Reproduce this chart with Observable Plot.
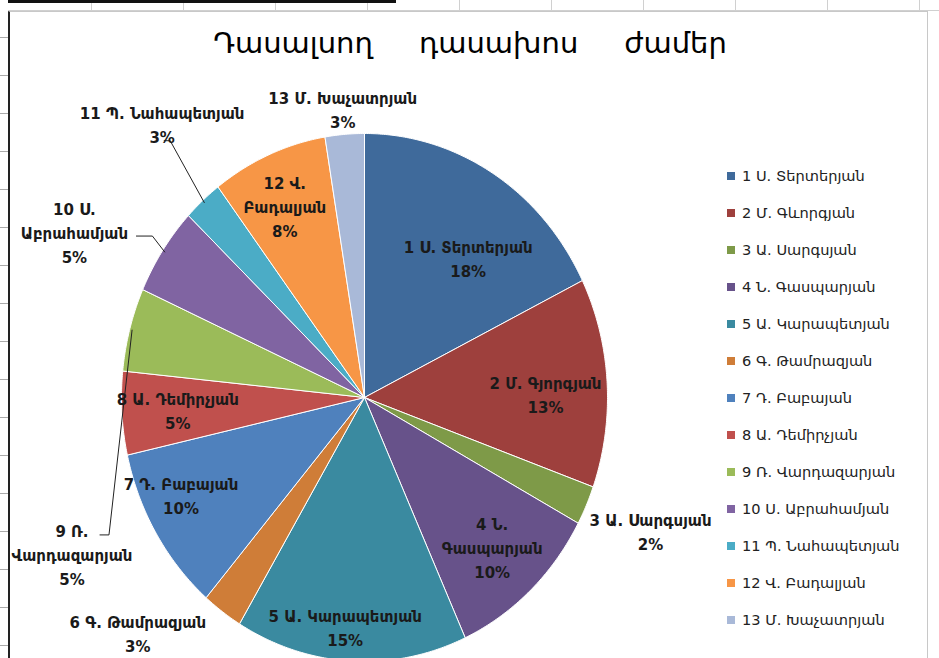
<!DOCTYPE html>
<html><head><meta charset="utf-8">
<script src="https://cdn.jsdelivr.net/npm/d3@7"></script>
<script src="https://cdn.jsdelivr.net/npm/@observablehq/plot@0.6"></script>
<style>
html,body{margin:0;padding:0;background:#fff;}
body{width:939px;height:658px;position:relative;overflow:hidden;font-family:"DejaVu Sans",sans-serif;}
#strip{position:absolute;left:0;top:0;width:939px;height:10px;background:repeating-linear-gradient(to right,#fff 0 91px,#d0d0d0 91px 92px);border-bottom:1px solid #d0d0d0;}
#topline{position:absolute;left:0;top:0;width:396px;height:3px;background:#111;}
#leftcol{position:absolute;left:0;top:0;width:8px;height:658px;background:repeating-linear-gradient(to bottom,#fff 0 37px,#aaa 37px 38px);}
#frame{position:absolute;left:8px;top:11px;width:917px;height:660px;border-left:2px solid #222;border-top:1px solid #c8c8c8;border-right:1px solid #c8c8c8;background:#fff;}
#chart{position:absolute;left:0;top:0;}
#title{position:absolute;left:60px;width:820px;top:26px;text-align:center;font-size:29px;white-space:pre;color:#000;}
#legend{position:absolute;left:727px;top:157px;}
#legend .lg-swatches{font-size:14.6px !important;font-family:"DejaVu Sans",sans-serif !important;color:#222 !important;margin:0 !important;}
#legend .lg-swatch{height:37px !important;padding:0 !important;display:flex;align-items:center;}
#legend .lg-swatch svg{margin-right:7px !important;}
</style></head>
<body>
<div id="strip"></div><div id="topline"></div><div id="leftcol"></div>
<div id="frame"></div>
<div id="chart"></div>
<div id="title">Դասալսող     դասախոս     ժամեր</div>
<div id="legend"></div>
<script>
const names = ["1 Ս. Տերտերյան","2 Մ. Գևորգյան","3 Ա. Սարգսյան","4 Ն. Գասպարյան","5 Ա. Կարապետյան","6 Գ. Թամրազյան","7 Դ. Բաբայան","8 Ա. Դեմիրչյան","9 Ռ. Վարդազարյան","10 Ս. Աբրահամյան","11 Պ. Նահապետյան","12 Վ. Բադալյան","13 Մ. Խաչատրյան"];
const pieLabels = ["1 Ս. Տերտերյան","2 Մ. Գյորգյան","3 Ա. Սարգսյան","4 Ն.\nԳասպարյան","5 Ա. Կարապետյան","6 Գ. Թամրազյան","7 Դ. Բաբայան","8 Ա. Դեմիրչյան","9 Ռ.\nՎարդազարյան","10 Ս.\nԱբրահամյան","11 Պ. Նահապետյան","12 Վ.\nԲադալյան","13 Մ. Խաչատրյան"];
const values = [17.7, 12.8, 2.4, 10.3, 15.4, 2.7, 10.2, 5.1, 5.1, 5.4, 2.6, 7.7, 2.6];
const colors = ["#3f6a9b","#9e403d","#7e9a48","#67528a","#3a8aa0","#cf7d38","#4f81bd","#c0504d","#9bbb59","#8064a2","#4bacc6","#f79646","#a9b9d8"];

// layout (not data)
const W = 939, H = 658, CX = 364, CY = 397, RX = 243, RY = 264;
const labelR = [0.68, 0.745, 1.28, 0.77, 0.87, 1.29, 0.84, 0.77, 1.34, 1.35, 1.33, 0.80, 1.10];
const labelShift = [7, 2, -1, 0, 2, 10.5, 5, 0, -41, -6, 3, -1, 0];
const leaderSpec = [{i:8, dx:37, dy:-18, len:9}, {i:9, dx:78, dy:5, len:16}, {i:10, dx:8, dy:17, len:6}];

const total = d3.sum(values);
const arcs = d3.pie().sort(null).value(d => d)(values);

const slicePts = arcs.flatMap((a, i) => {
  const n = Math.max(2, Math.ceil((a.endAngle - a.startAngle) / (Math.PI / 360)));
  const pts = [{name: names[i], x: 0, y: 0}];
  for (let k = 0; k <= n; k++) {
    const t = a.startAngle + (a.endAngle - a.startAngle) * k / n;
    pts.push({name: names[i], x: Math.sin(t), y: Math.cos(t)});
  }
  pts.push({name: names[i], x: 0, y: 0});
  return pts;
});

const labels = arcs.map((a, i) => {
  const t = (a.startAngle + a.endAngle) / 2 + labelShift[i] * Math.PI / 180;
  return {text: pieLabels[i] + "\n" + Math.round(values[i] / total * 100) + "%",
          x: labelR[i] * Math.sin(t), y: labelR[i] * Math.cos(t)};
});

const leaders = leaderSpec.flatMap(s => {
  const a = arcs[s.i], m = (a.startAngle + a.endAngle) / 2, L = labels[s.i];
  const ex = L.x + s.dx / RX, ey = L.y - s.dy / RY;
  return [
    {k: s.i, x: 0.99 * Math.sin(m), y: 0.99 * Math.cos(m)},
    {k: s.i, x: ex, y: ey},
    {k: s.i, x: ex - s.len / RX, y: ey}
  ];
});

const font = '"DejaVu Sans", sans-serif';
const chart = Plot.plot({
  width: W, height: H, margin: 0,
  x: {domain: [-CX / RX, (W - CX) / RX], axis: null},
  y: {domain: [-(H - CY) / RY, CY / RY], axis: null},
  color: {domain: names, range: colors},
  style: {background: "transparent", fontFamily: font, overflow: "visible"},
  marks: [
    Plot.line(slicePts, {x: "x", y: "y", z: "name", fill: "name", stroke: "white", strokeWidth: 1, curve: "linear"}),
    Plot.line(leaders, {x: "x", y: "y", z: "k", stroke: "#222", strokeWidth: 1, curve: "linear"}),
    Plot.text(labels, {x: "x", y: "y", text: "text", fontWeight: "bold", fontSize: 15, lineHeight: 1.6, fill: "#1a1a1a", fontFamily: font})
  ]
});
document.getElementById("chart").appendChild(chart);

const leg = Plot.legend({color: {domain: names, range: colors}, columns: 1, swatchSize: 8, className: "lg"});
document.getElementById("legend").appendChild(leg);
</script>
</body></html>
